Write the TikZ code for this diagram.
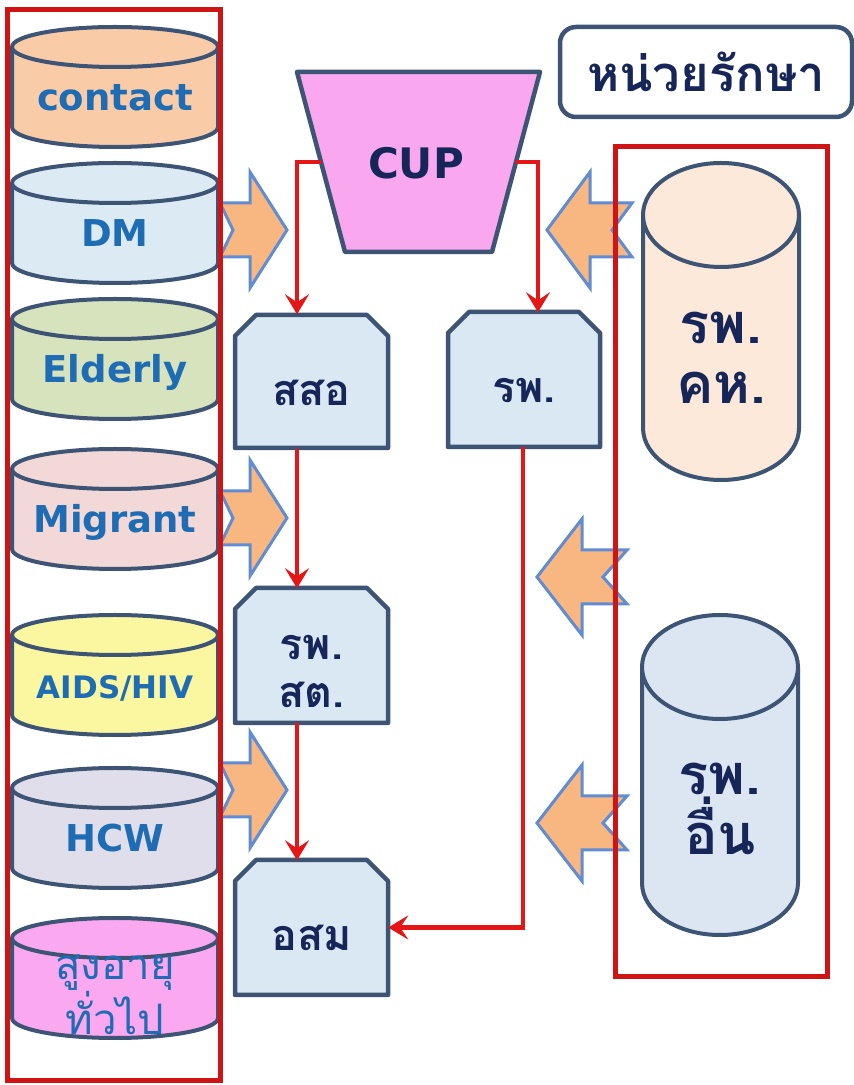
\documentclass[tikz,border=0pt]{standalone}
\usepackage{fontspec}
\usetikzlibrary{arrows.meta}
\newfontfamily\dvs{DejaVu Sans}
\newfontfamily\thai[Script=Thai]{Loma}
\definecolor{redline}{RGB}{208,20,20}
\definecolor{redarr}{RGB}{228,22,22}
\definecolor{outl}{RGB}{62,84,117}
\definecolor{boxfill}{RGB}{218,232,243}
\definecolor{cupfill}{RGB}{249,168,240}
\definecolor{orangefill}{RGB}{248,183,128}
\definecolor{arrowedge}{RGB}{95,140,210}
\definecolor{navy}{RGB}{22,38,88}
\definecolor{lblue}{RGB}{30,108,180}
\definecolor{cContact}{RGB}{250,203,167}
\definecolor{cDM}{RGB}{220,234,244}
\definecolor{cElderly}{RGB}{215,227,188}
\definecolor{cMigrant}{RGB}{242,216,214}
\definecolor{cAids}{RGB}{251,246,160}
\definecolor{cHCW}{RGB}{225,222,236}
\definecolor{cOld}{RGB}{250,168,240}
\definecolor{cKH}{RGB}{253,233,217}
\definecolor{cOther}{RGB}{220,230,242}
\tikzset{
  frame/.style={draw=redline, line width=5pt},
  cylline/.style={draw=outl, line width=4pt},
  boxline/.style={draw=outl, line width=4.5pt, fill=boxfill, line join=round},
  flow/.style={draw=redarr, line width=4.5pt, -{Stealth[length=20pt,width=24pt,inset=8pt]}},
  barrow/.style={fill=orangefill, draw=arrowedge, line width=3pt, line join=miter},
  engl/.style={font=\dvs\bfseries\fontsize{37}{40}\selectfont, text=lblue, inner sep=0pt},
  boxshape/.style={inner sep=0pt, minimum width=153pt, minimum height=134pt},
  thaibox/.style={font=\thai\bfseries\fontsize{43}{48}\selectfont, text=navy, inner sep=0pt, align=center},
  thaicyl/.style={font=\thai\bfseries\fontsize{56}{60}\selectfont, text=navy, inner sep=0pt, align=center},
}
% disk cylinder on the left: #1 name, #2 image-y of top centre, #3 fill, #4 text style, #5 text
\newcommand\diskcyl[5]{%
  \pgfmathsetmacro\cyT{1085-#2}%
  \pgfmathsetmacro\cyB{1085-#2-80}%
  \fill[#3] (12,\cyT) -- (12,\cyB) arc[start angle=180,end angle=360,x radius=103pt,y radius=20pt] -- (218,\cyT) -- cycle;
  \draw[cylline] (12,\cyT) -- (12,\cyB) arc[start angle=180,end angle=360,x radius=103pt,y radius=20pt] -- (218,\cyT);
  \draw[cylline,fill=#3] (115,\cyT) ellipse[x radius=103pt,y radius=20pt];
  \node[anchor=base, #4] (#1) at (115,\cyT-64) {#5};
}
% upright cylinder on the right: #1 name, #2 cx, #3 top centre Y, #4 bottom centre Y, #5 fill
\newcommand\upcyl[5]{%
  \fill[#5] (#2-78,#3) -- (#2-78,#4) arc[start angle=180,end angle=360,x radius=78pt,y radius=52pt] -- (#2+78,#3) -- cycle;
  \draw[cylline] (#2-78,#3) -- (#2-78,#4) arc[start angle=180,end angle=360,x radius=78pt,y radius=52pt] -- (#2+78,#3);
  \draw[cylline,fill=#5] (#2,#3) ellipse[x radius=78pt,y radius=52pt];
}
% chamfered box: #1 name, #2 x left, #3 x right, #4 Y top, #5 Y bottom, #6 text, #7 text offset
\newcommand\chbox[7]{%
  \draw[boxline] (#2,#5) -- (#2,#4-21) -- (#2+21,#4) -- (#3-21,#4) -- (#3,#4-21) -- (#3,#5) -- cycle;
  \node[boxshape] (#1) at ({(#2+#3)/2},{(#4+#5)/2}) {};
  \node[thaibox, yshift=#7] (#1text) at (#1.center) {#6};
}
% block arrow: #1 tail x, #2 notch x, #3 head base x, #4 tip x, #5 centre Y
\newcommand\blockarrow[5]{%
  \draw[barrow] (#1,#5+27) -- (#3,#5+27) -- (#3,#5+58) -- (#4,#5) -- (#3,#5-58) -- (#3,#5-27) -- (#1,#5-27) -- (#2,#5) -- cycle;
}
\begin{document}
\begin{tikzpicture}[x=1pt,y=1pt]
\useasboundingbox (0,0) rectangle (854,1085);
\fill[white] (0,0) rectangle (854,1085);

% left column of groups
\diskcyl{contact}{47}{cContact}{engl}{contact}
\diskcyl{dm}{183}{cDM}{engl}{DM}
\diskcyl{elderly}{319}{cElderly}{engl}{Elderly}
\diskcyl{migrant}{469}{cMigrant}{engl}{Migrant}
\diskcyl{aids}{635}{cAids}{engl,font=\dvs\bfseries\fontsize{31}{36}\selectfont}{AIDS/HIV}
\diskcyl{hcw}{788}{cHCW}{engl}{HCW}
\diskcyl{oldgen}{938}{cOld}{engl,font=\thai\fontsize{42}{52}\selectfont,align=center,anchor=center,yshift=7pt}{สูงอายุ\\ทั่วไป}

% right cylinders
\upcyl{kh}{721}{870}{657}{cKH}
\node[thaicyl] (khtext) at (721,727) {รพ.\\คห.};
\upcyl{other}{720}{418}{202}{cOther}
\node[thaicyl] (othertext) at (720,276) {รพ.\\อื่น};

% block arrows
\blockarrow{220}{233}{250}{287}{855}
\blockarrow{220}{233}{250}{287}{567}
\blockarrow{220}{233}{250}{287}{295}
\blockarrow{632}{612}{590}{547}{855}
\blockarrow{627}{603}{582}{537}{508}
\blockarrow{627}{603}{582}{537}{262}

% frames
\draw[frame] (7,4) rectangle (220,1075);
\draw[frame] (615,108) rectangle (827,938);

% CUP
\draw[draw=outl, line width=4.5pt, fill=cupfill, line join=round] (297,1013) -- (540,1013) -- (492,833) -- (345,833) -- cycle;
\node[font=\dvs\bfseries\fontsize{42}{48}\selectfont, text=navy, inner sep=0pt] (cup) at (416,922) {CUP};
\coordinate (cupL) at (321,923);
\coordinate (cupR) at (516,923);

% treatment unit label
\node[draw=outl, line width=4.5pt, rounded corners=16pt, fill=white, minimum width=292pt, minimum height=90pt,
  font=\thai\bfseries\fontsize{49}{54}\selectfont, text=navy, inner sep=0pt] (unit) at (706,1013) {หน่วยรักษา};

% boxes
\chbox{sso}{235}{388}{770}{637}{สสอ}{-11pt}
\chbox{rp}{448}{600}{773}{638}{รพ.}{-11pt}
\chbox{rpst}{235}{388}{497}{362}{รพ.\\สต.}{-16pt}
\chbox{osm}{235}{388}{225}{90}{อสม}{-10pt}

% flows
\draw[flow] (cupL) -| ([xshift=-14.5pt]sso.north);
\draw[flow] (cupR) -| ([xshift=14pt]rp.north);
\draw[flow] ([xshift=-14.5pt]sso.south) -- ([xshift=-14.5pt]rpst.north);
\draw[flow] ([xshift=-14.5pt]rpst.south) -- ([xshift=-14.5pt]osm.north);
\draw[flow] ([xshift=-1pt]rp.south) |- (osm.east);
\end{tikzpicture}
\end{document}
